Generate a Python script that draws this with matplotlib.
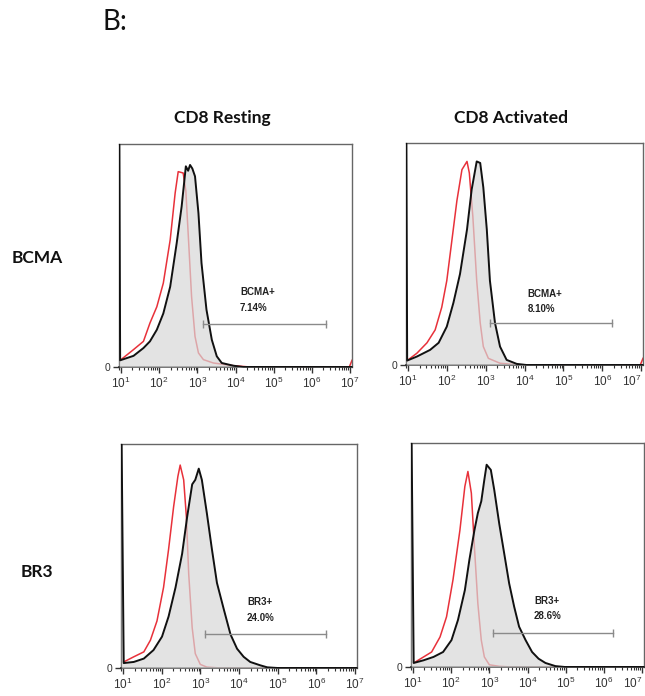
import numpy as np
import matplotlib
matplotlib.use("Agg")
import matplotlib.pyplot as plt
from matplotlib.ticker import FixedLocator, NullFormatter

plt.rcParams['font.family'] = ['Liberation Sans', 'DejaVu Sans']
plt.rcParams['mathtext.fontset'] = 'custom'
plt.rcParams['mathtext.rm'] = 'Liberation Sans'
plt.rcParams['mathtext.it'] = 'Liberation Sans'

# ---------------- data (log10 fluorescence, normalized count) ----------------
col_titles = ["CD8 Resting", "CD8 Activated"]
row_titles = ["BCMA", "BR3"]
gate_labels = [["BCMA+\n7.14%", "BCMA+\n8.10%"], ["BR3+\n24.0%", "BR3+\n28.6%"]]

# top-left: BCMA, CD8 resting
tl_black_x = [0.955, 0.98, 1.33, 1.59, 1.76, 1.94, 2.11, 2.29, 2.46, 2.59, 2.70, 2.76, 2.81, 2.87,
              2.94, 3.03, 3.11, 3.24, 3.38, 3.51, 3.64, 3.94, 4.2, 7.05]
tl_black_y = [1.20, 0.03, 0.05, 0.085, 0.115, 0.167, 0.24, 0.36, 0.555, 0.72, 0.90, 0.88, 0.906, 0.89,
              0.855, 0.69, 0.466, 0.257, 0.122, 0.048, 0.018, 0.006, 0.0, 0.0]
tl_red_x = [0.98, 1.33, 1.59, 1.76, 1.94, 2.11, 2.29, 2.42, 2.50, 2.63, 2.70, 2.77, 2.85, 2.94,
            3.03, 3.16, 3.42, 3.94, 4.38, 6.98, 7.05]
tl_red_y = [0.03, 0.078, 0.115, 0.197, 0.27, 0.376, 0.57, 0.78, 0.876, 0.87, 0.79, 0.57, 0.316, 0.137,
            0.063, 0.033, 0.018, 0.006, 0.0, 0.0, 0.03]

# top-right: BCMA, CD8 activated
tr_black_x = [0.955, 0.98, 1.23, 1.57, 1.79, 2.0, 2.17, 2.34, 2.52, 2.64, 2.77, 2.86, 2.94, 3.03,
              3.11, 3.24, 3.37, 3.54, 3.80, 4.05, 7.05]
tr_black_y = [1.20, 0.02, 0.038, 0.068, 0.10, 0.173, 0.28, 0.41, 0.61, 0.79, 0.917, 0.91, 0.80, 0.61,
              0.38, 0.19, 0.083, 0.023, 0.005, 0.0, 0.0]
tr_red_x = [0.98, 1.23, 1.49, 1.70, 1.87, 2.0, 2.13, 2.26, 2.39, 2.52, 2.58, 2.67, 2.77, 2.86,
            2.94, 3.07, 3.37, 3.88, 6.98, 7.05]
tr_red_y = [0.02, 0.053, 0.10, 0.158, 0.26, 0.38, 0.56, 0.74, 0.88, 0.917, 0.865, 0.67, 0.38, 0.19,
            0.083, 0.03, 0.008, 0.0, 0.0, 0.03]

# bottom-left: BR3, CD8 resting
bl_black_x = [0.955, 1.02, 1.28, 1.54, 1.79, 2.01, 2.18, 2.36, 2.53, 2.66, 2.79, 2.87, 2.96, 3.04,
              3.17, 3.30, 3.43, 3.61, 3.78, 3.95, 4.12, 4.29, 4.55, 4.73, 5.0, 7.05]
bl_black_y = [1.20, 0.022, 0.027, 0.042, 0.08, 0.14, 0.23, 0.36, 0.51, 0.675, 0.82, 0.84, 0.89, 0.84,
              0.69, 0.53, 0.38, 0.26, 0.15, 0.086, 0.05, 0.027, 0.012, 0.003, 0.0, 0.0]
bl_red_x = [1.02, 1.28, 1.54, 1.71, 1.88, 2.05, 2.18, 2.31, 2.42, 2.48, 2.57, 2.64, 2.70, 2.79,
            2.87, 3.0, 3.17, 3.52, 7.05]
bl_red_y = [0.027, 0.05, 0.072, 0.124, 0.21, 0.36, 0.53, 0.72, 0.855, 0.906, 0.84, 0.675, 0.42, 0.18,
            0.064, 0.016, 0.004, 0.0, 0.0]

# bottom-right: BR3, CD8 activated
br_black_x = [0.955, 1.02, 1.28, 1.54, 1.79, 2.01, 2.18, 2.36, 2.48, 2.61, 2.70, 2.79, 2.87, 2.93,
              3.04, 3.13, 3.26, 3.39, 3.52, 3.65, 3.78, 3.95, 4.12, 4.29, 4.47, 4.73, 4.98, 7.05]
br_black_y = [1.20, 0.018, 0.03, 0.045, 0.067, 0.12, 0.21, 0.343, 0.48, 0.61, 0.687, 0.74, 0.836, 0.903,
              0.88, 0.79, 0.64, 0.507, 0.373, 0.27, 0.18, 0.12, 0.067, 0.037, 0.018, 0.004, 0.0, 0.0]
br_red_x = [1.02, 1.28, 1.49, 1.71, 1.88, 2.05, 2.23, 2.36, 2.44, 2.53, 2.61, 2.70, 2.79, 2.87,
            3.0, 3.26, 3.6, 7.05]
br_red_y = [0.018, 0.045, 0.067, 0.134, 0.224, 0.39, 0.61, 0.806, 0.873, 0.776, 0.537, 0.284, 0.12, 0.045,
            0.01, 0.003, 0.0, 0.0]

# gates: (start log10, end log10, height), label position (log10, height)
gate_start = [[3.16, 3.10], [3.11, 3.09]]
gate_end = [[6.36, 6.24], [6.25, 6.23]]
gate_height = [[0.193, 0.19], [0.153, 0.152]]
label_x = [[4.12, 4.08], [4.21, 4.17]]
label_y = [[0.30, 0.286], [0.258, 0.262]]

black_x = [[tl_black_x, tr_black_x], [bl_black_x, br_black_x]]
black_y = [[tl_black_y, tr_black_y], [bl_black_y, br_black_y]]
red_x = [[tl_red_x, tr_red_x], [bl_red_x, br_red_x]]
red_y = [[tl_red_y, tr_red_y], [bl_red_y, br_red_y]]

xtick_exps = [1, 2, 3, 4, 5, 6, 7]

# ---------------- figure ----------------
W, H = 645, 696
fig = plt.figure(figsize=(W / 100, H / 100), dpi=100)

boxes = [[(119, 144, 352, 367), (406, 143, 643, 365)],
         [(121, 444, 357, 668), (411, 443, 644, 667)]]

def fbox(l, t, r, b):
    return [l / W, 1 - b / H, (r - l) / W, (b - t) / H]

minor = [m * 10.0 ** e for e in range(0, 8) for m in range(2, 10)]

for i in range(2):
    for j in range(2):
        ax = fig.add_axes(fbox(*boxes[i][j]))
        bx = 10.0 ** np.array(black_x[i][j])
        by = np.array(black_y[i][j])
        rx = 10.0 ** np.array(red_x[i][j])
        ry = np.array(red_y[i][j])
        ax.plot(rx, ry, color='#e8313a', lw=1.1, zorder=2)
        ax.fill_between(bx, 0, by, color='#d8d8d8', alpha=0.7, lw=0, zorder=3)
        ax.plot(bx, by, color='#111111', lw=1.4, zorder=4)
        # gate
        gx = [10.0 ** gate_start[i][j], 10.0 ** gate_end[i][j]]
        gy = gate_height[i][j]
        ax.plot(gx, [gy, gy], color='#8a8a8a', lw=1.0, zorder=5)
        ax.plot(gx, [gy, gy], ls='none', marker='|', ms=6, mew=1.0, color='#8a8a8a', zorder=5)
        ax.text(10.0 ** label_x[i][j], label_y[i][j], gate_labels[i][j], fontsize=7,
                fontweight='bold', color='#222222', ha='left', va='center', linespacing=1.7, zorder=6)

        ax.set_xscale('log')
        ax.set_xlim(10 ** 0.95, 10 ** 7.05)
        ax.set_ylim(0, 1)
        ax.xaxis.set_major_locator(FixedLocator([10.0 ** e for e in xtick_exps]))
        ax.set_xticklabels([r'$10^{%d}$' % e for e in xtick_exps])
        ax.xaxis.set_minor_locator(FixedLocator(minor))
        ax.xaxis.set_minor_formatter(NullFormatter())
        ax.tick_params(axis='x', which='major', direction='out', length=4, width=1.0,
                       labelsize=8.5, colors='#333333', pad=2)
        ax.tick_params(axis='x', which='minor', direction='out', length=2, width=0.8, colors='#333333')
        if j == 1:
            ax.get_xticklabels()[-1].set_ha('right')
        ax.set_yticks([0])
        ax.set_yticklabels(['0'])
        ax.tick_params(axis='y', direction='out', length=4, width=1.0, labelsize=7.5,
                       colors='#333333', pad=2)
        for s in ['top', 'right', 'left']:
            ax.spines[s].set_color('#666666')
            ax.spines[s].set_linewidth(1.0)
        ax.spines['bottom'].set_color('#222222')
        ax.spines['bottom'].set_linewidth(1.2)
        ax.set_facecolor('white')

# titles
fig.text(115 / W, 1 - 22 / H, "B:", fontsize=20, family=['Lato', 'DejaVu Sans'],
         ha='center', va='center', color='#111111')
for j, cx in enumerate([222, 511]):
    fig.text(cx / W, 1 - 118 / H, col_titles[j], fontsize=12.5, fontweight='bold',
             family=['Lato', 'DejaVu Sans'], ha='center', va='center', color='#111111')
for i, cy in enumerate([258, 572]):
    fig.text(37 / W, 1 - cy / H, row_titles[i], fontsize=12.5, fontweight='bold',
             family=['Lato', 'DejaVu Sans'], ha='center', va='center', color='#111111')

fig.savefig("out.png", dpi=100, facecolor='white')
